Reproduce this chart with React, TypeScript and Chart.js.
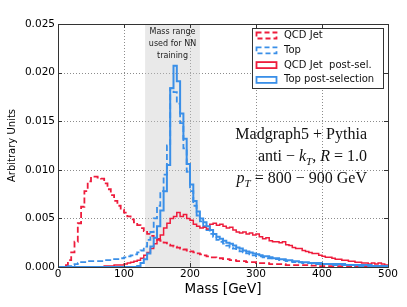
import { useEffect, useRef } from "react";
import { Chart, registerables } from "chart.js";

Chart.register(...registerables);

// 5 GeV bins from 0 to 500 GeV
const binEdges = Array.from({ length: 101 }, (_, i) => i * 5);

const qcdJet = [
  0, 0, 0.0002, 0.0007, 0.0015, 0.0026, 0.0045, 0.0062, 0.0078, 0.0088,
  0.0093, 0.0093, 0.0092, 0.0091, 0.0086, 0.008, 0.0074, 0.0068, 0.0063, 0.0059,
  0.0056, 0.0052, 0.0049, 0.0046, 0.0043, 0.004, 0.0037, 0.0034, 0.0032, 0.003,
  0.0028, 0.0027, 0.0025, 0.0023, 0.0022, 0.0021, 0.002, 0.0019, 0.0018, 0.0017,
  0.0016, 0.0015, 0.0014, 0.0013, 0.0012, 0.0011, 0.001, 0.001, 0.0009, 0.0009,
  0.0008, 0.0008, 0.0007, 0.0007, 0.0006, 0.0006, 0.0006, 0.0005, 0.0005, 0.0005,
  0.0004, 0.0004, 0.0004, 0.0004, 0.0003, 0.0003, 0.0003, 0.0003, 0.0003, 0.0002,
  0.0002, 0.0002, 0.0002, 0.0002, 0.0002, 0.0002, 0.00015, 0.00015, 0.00015, 0.0001,
  0.0001, 0.0001, 0.0001, 0.0001, 0.0001, 0.0001, 0.0001, 0.0001, 0.00008, 0.00008,
  0.00007, 0.00006, 0.00006, 0.00005, 0.00005, 0.00004, 0.00004, 0.00004, 0.00003, 0.00003,
];

const topJet = [
  0, 0, 0, 0.0001, 0.0002, 0.0003, 0.0004, 0.0005, 0.0005, 0.0006,
  0.0006, 0.0006, 0.0006, 0.0006, 0.0007, 0.0007, 0.0007, 0.0008, 0.0008, 0.0009,
  0.001, 0.0011, 0.0012, 0.0013, 0.0015, 0.0017, 0.0021, 0.0028, 0.0036, 0.005,
  0.0063, 0.0078, 0.0095, 0.0125, 0.0184, 0.018, 0.0168, 0.0148, 0.0122, 0.0098,
  0.0078, 0.0063, 0.0053, 0.0047, 0.0042, 0.0038, 0.0034, 0.0031, 0.0028, 0.0026,
  0.0024, 0.0022, 0.002, 0.0019, 0.0017, 0.0016, 0.0015, 0.0014, 0.0013, 0.0012,
  0.0011, 0.0011, 0.001, 0.0009, 0.0009, 0.0008, 0.0008, 0.0007, 0.0007, 0.0006,
  0.0006, 0.0005, 0.0005, 0.0005, 0.0004, 0.0004, 0.0004, 0.0003, 0.0003, 0.0003,
  0.0003, 0.0003, 0.0003, 0.0002, 0.0002, 0.0002, 0.0002, 0.0002, 0.0002, 0.0002,
  0.0001, 0.0001, 0.0001, 0.0001, 0.0001, 0.0001, 0.0001, 0.0001, 0.0001, 0.0001,
];

const qcdPostSel = [
  0, 0, 0, 0, 0, 0, 0, 0, 0, 0,
  0, 0, 0, 0, 0.0001, 0.0001, 0.0001, 0.0002, 0.0002, 0.0002,
  0.0003, 0.0004, 0.0005, 0.0006, 0.0007, 0.0009, 0.0012, 0.0015, 0.0019, 0.0024,
  0.0029, 0.0033, 0.004, 0.0045, 0.005, 0.0052, 0.0056, 0.0052, 0.0054, 0.005,
  0.0048, 0.0044, 0.0042, 0.004, 0.0041, 0.0039, 0.0044, 0.0045, 0.0043, 0.0044,
  0.0042, 0.004, 0.0041, 0.0038, 0.0036, 0.0035, 0.0036, 0.0034, 0.0035, 0.0033,
  0.0034, 0.0031, 0.0029, 0.003, 0.0027, 0.0026, 0.0026, 0.0025, 0.0026, 0.0023,
  0.0022, 0.002, 0.0019, 0.0019, 0.0017, 0.0016, 0.0015, 0.0014, 0.0014, 0.0012,
  0.0011, 0.001, 0.001, 0.0009, 0.0008, 0.0008, 0.0007, 0.0007, 0.0006, 0.0006,
  0.0005, 0.0005, 0.0004, 0.0004, 0.0003, 0.0004, 0.0003, 0.0004, 0.0003, 0.0002,
];

const topPostSel = [
  0, 0, 0, 0, 0, 0, 0, 0, 0, 0,
  0, 0, 0, 0, 0, 0, 0, 0, 0, 0,
  0, 0, 0, 0, 0.0001, 0.0004, 0.0008, 0.0014, 0.0021, 0.003,
  0.0042, 0.0058, 0.0078, 0.0105, 0.0184, 0.0207, 0.0191, 0.0158, 0.0132, 0.0106,
  0.0085, 0.0068, 0.0057, 0.005, 0.0046, 0.0042, 0.0038, 0.0034, 0.0031, 0.0029,
  0.0027, 0.0025, 0.0024, 0.0022, 0.002, 0.0019, 0.0017, 0.0016, 0.0015, 0.0014,
  0.0013, 0.0012, 0.0011, 0.0011, 0.001, 0.0009, 0.0009, 0.0008, 0.0008, 0.0007,
  0.0007, 0.0006, 0.0006, 0.0005, 0.0005, 0.0005, 0.0004, 0.0004, 0.0004, 0.0004,
  0.0003, 0.0003, 0.0003, 0.0003, 0.0003, 0.0003, 0.0003, 0.0002, 0.0002, 0.0002,
  0.0002, 0.0002, 0.0002, 0.0002, 0.0002, 0.0001, 0.0001, 0.0001, 0.0001, 0.0001,
];

const xTicks = [0, 100, 200, 300, 400, 500];
const yTicks = [0, 0.005, 0.01, 0.015, 0.02, 0.025];
const bandRange = [132, 215];
const bandLabel = ["Mass range", "used for NN", "training"];
const legendLabels = ["QCD Jet", "Top", "QCD Jet  post-sel.", "Top post-selection"];
const xTitle = "Mass [GeV]";
const yTitle = "Arbitrary Units";

const RED = "#ee1c3c";
const BLUE = "#3a8fe8";
const SANS = "'DejaVu Sans', sans-serif";
const SERIF = "'Liberation Serif', 'DejaVu Serif', serif";

type Piece = { t: string; it?: boolean; sub?: boolean };

function drawRich(ctx: CanvasRenderingContext2D, pieces: Piece[], right: number, base: number, size: number) {
  const fontOf = (p: Piece) => `${p.it ? "italic " : ""}${p.sub ? Math.round(size * 0.7) : size}px ${SERIF}`;
  let w = 0;
  for (const p of pieces) {
    ctx.font = fontOf(p);
    w += ctx.measureText(p.t).width;
  }
  let x = right - w;
  ctx.textAlign = "left";
  ctx.textBaseline = "alphabetic";
  for (const p of pieces) {
    ctx.font = fontOf(p);
    ctx.fillText(p.t, x, base + (p.sub ? size * 0.22 : 0));
    x += ctx.measureText(p.t).width;
  }
}

const decor = {
  id: "decor",
  beforeDatasetsDraw(chart: any) {
    const { ctx, chartArea: a, scales } = chart;
    const x = scales.x, y = scales.y;
    ctx.save();
    ctx.strokeStyle = "#8c8c8c";
    ctx.lineWidth = 1;
    ctx.setLineDash([1, 2]);
    for (const v of yTicks.slice(1, -1)) {
      const py = Math.round(y.getPixelForValue(v)) + 0.5;
      ctx.beginPath();
      ctx.moveTo(a.left, py);
      ctx.lineTo(a.right, py);
      ctx.stroke();
    }
    for (const v of xTicks.slice(1, -1)) {
      const px = Math.round(x.getPixelForValue(v)) + 0.5;
      ctx.beginPath();
      ctx.moveTo(px, a.top);
      ctx.lineTo(px, a.bottom);
      ctx.stroke();
    }
    ctx.setLineDash([]);
    const b0 = x.getPixelForValue(bandRange[0]);
    const b1 = x.getPixelForValue(bandRange[1]);
    ctx.fillStyle = "rgba(200,200,200,0.4)";
    ctx.fillRect(b0, a.top, b1 - b0, a.bottom - a.top);
    ctx.restore();
  },
  afterDatasetsDraw(chart: any) {
    const { ctx, chartArea: a, scales } = chart;
    const x = scales.x, y = scales.y;
    ctx.save();
    // frame
    ctx.strokeStyle = "#333";
    ctx.lineWidth = 1;
    ctx.strokeRect(Math.round(a.left) + 0.5, Math.round(a.top) + 0.5, Math.round(a.right - a.left), Math.round(a.bottom - a.top));
    // inward ticks
    const tl = 4;
    ctx.beginPath();
    for (const v of xTicks) {
      const px = Math.round(x.getPixelForValue(v)) + 0.5;
      ctx.moveTo(px, a.bottom);
      ctx.lineTo(px, a.bottom - tl);
      ctx.moveTo(px, a.top);
      ctx.lineTo(px, a.top + tl);
    }
    for (const v of yTicks) {
      const py = Math.round(y.getPixelForValue(v)) + 0.5;
      ctx.moveTo(a.left, py);
      ctx.lineTo(a.left + tl, py);
      ctx.moveTo(a.right, py);
      ctx.lineTo(a.right - tl, py);
    }
    ctx.stroke();

    // band label
    const bc = (x.getPixelForValue(bandRange[0]) + x.getPixelForValue(bandRange[1])) / 2;
    ctx.fillStyle = "#222";
    ctx.font = `8px ${SANS}`;
    ctx.textAlign = "center";
    ctx.textBaseline = "middle";
    bandLabel.forEach((s, i) => ctx.fillText(s, bc, a.top + 7.5 + i * 12));

    // legend
    const lx = a.right - 136, ly = a.top + 4, lw = 131, lh = 60;
    ctx.fillStyle = "#fff";
    ctx.fillRect(lx, ly, lw, lh);
    ctx.strokeStyle = "#333";
    ctx.lineWidth = 1;
    ctx.strokeRect(lx + 0.5, ly + 0.5, lw, lh);
    const styles = [
      { c: RED, d: [5, 3] },
      { c: BLUE, d: [5, 3] },
      { c: RED, d: [] as number[] },
      { c: BLUE, d: [] as number[] },
    ];
    legendLabels.forEach((s, i) => {
      const cy = ly + 7.5 + i * 14.8;
      ctx.strokeStyle = styles[i].c;
      ctx.lineWidth = 1.8;
      ctx.setLineDash(styles[i].d);
      ctx.strokeRect(lx + 4.5, cy - 3, 20, 6);
      ctx.setLineDash([]);
      ctx.fillStyle = "#111";
      ctx.font = `10px ${SANS}`;
      ctx.textAlign = "left";
      ctx.textBaseline = "middle";
      ctx.fillText(s, lx + 32, cy);
    });

    // annotation
    ctx.fillStyle = "#111";
    const rx = a.right - 21;
    drawRich(ctx, [{ t: "Madgraph5 + Pythia" }], rx, 139, 16);
    drawRich(ctx, [{ t: "anti − " }, { t: "k", it: true }, { t: "T", it: true, sub: true }, { t: ", " }, { t: "R", it: true }, { t: " = 1.0" }], rx, 161, 16);
    drawRich(ctx, [{ t: "p", it: true }, { t: "T", it: true, sub: true }, { t: " = 800 − 900 GeV" }], rx, 183, 16);

    // axis titles
    ctx.fillStyle = "#000";
    ctx.font = `13.5px ${SANS}`;
    ctx.textAlign = "center";
    ctx.textBaseline = "middle";
    ctx.fillText(xTitle, (a.left + a.right) / 2, 289);
    ctx.save();
    ctx.translate(12, (a.top + a.bottom) / 2);
    ctx.rotate(-Math.PI / 2);
    ctx.font = `10px ${SANS}`;
    ctx.fillText(yTitle, 0, 0);
    ctx.restore();
    ctx.restore();
  },
};

function toPoints(vals: number[]) {
  const pts = vals.map((v, i) => ({ x: binEdges[i], y: v }));
  pts.push({ x: binEdges[vals.length], y: vals[vals.length - 1] });
  return pts;
}

export default function App() {
  const ref = useRef<HTMLCanvasElement>(null);
  useEffect(() => {
    document.body.style.margin = "0";
    const canvas = ref.current!;
    const chart = new Chart(canvas, {
      type: "line",
      data: {
        datasets: [
          { label: legendLabels[3], data: toPoints(topPostSel), borderColor: BLUE, borderWidth: 2, stepped: true },
          { label: legendLabels[2], data: toPoints(qcdPostSel), borderColor: RED, borderWidth: 1.5, stepped: true },
          { label: legendLabels[1], data: toPoints(topJet), borderColor: BLUE, borderWidth: 1.8, borderDash: [6, 3], stepped: true },
          { label: legendLabels[0], data: toPoints(qcdJet), borderColor: RED, borderWidth: 1.8, borderDash: [6, 3], stepped: true },
        ] as any,
      },
      options: {
        animation: false,
        responsive: false,
        devicePixelRatio: 1,
        parsing: false,
        elements: { point: { radius: 0 }, line: { fill: false, tension: 0 } },
        layout: { padding: { top: 24, right: 19, left: 0, bottom: 0 } },
        plugins: { legend: { display: false }, tooltip: { enabled: false } },
        scales: {
          x: {
            type: "linear",
            min: 0,
            max: 500,
            afterFit: (s: any) => { s.height = 40; },
            afterBuildTicks: (s: any) => { s.ticks = xTicks.map((v) => ({ value: v })); },
            ticks: { color: "#000", font: { family: SANS, size: 10.5 }, padding: 1, maxRotation: 0 },
            grid: { display: false, drawTicks: false },
            border: { display: false },
          },
          y: {
            type: "linear",
            min: 0,
            max: 0.025,
            afterFit: (s: any) => { s.width = 58; },
            afterBuildTicks: (s: any) => { s.ticks = yTicks.map((v) => ({ value: v })); },
            ticks: { color: "#000", font: { family: SANS, size: 10.5 }, padding: 3, callback: (v: any) => Number(v).toFixed(3) },
            grid: { display: false, drawTicks: false },
            border: { display: false },
          },
        },
      } as any,
      plugins: [decor],
    });
    return () => chart.destroy();
  }, []);
  return <canvas ref={ref} width={407} height={307} style={{ display: "block" }} />;
}
